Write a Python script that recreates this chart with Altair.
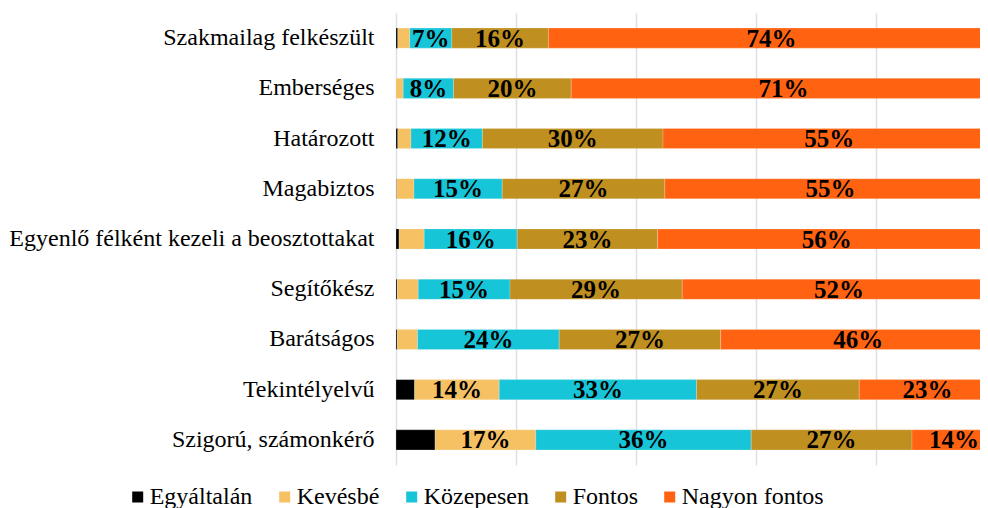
import altair as alt
import pandas as pd

cats = ["Szakmailag felkészült", "Emberséges", "Határozott", "Magabiztos",
        "Egyenlő félként kezeli a beosztottakat", "Segítőkész", "Barátságos",
        "Tekintélyelvű", "Szigorú, számonkérő"]
series = ["Egyáltalán", "Kevésbé", "Közepesen", "Fontos", "Nagyon fontos"]
colors = ["#000000", "#F5C163", "#17C5D8", "#BF8F1F", "#FF6311"]

egyaltalan = [0.3, 0.0, 0.3, 0.1, 0.5, 0.2, 0.2, 3.1, 6.5]
kevesbe = [2.0, 1.2, 2.2, 2.9, 4.2, 3.5, 3.4, 14.1, 16.8]
kozepesen = [7.0, 8.4, 11.9, 14.7, 15.5, 15.3, 23.6, 32.9, 35.9]
fontos = [16.1, 19.6, 30.1, 27.1, 23.4, 28.7, 26.9, 27.1, 26.8]
nagyon = [74.4, 70.8, 55.4, 55.2, 56.4, 52.3, 45.9, 22.8, 14.0]

vals = [egyaltalan, kevesbe, kozepesen, fontos, nagyon]
rows = []
for si, (s, v) in enumerate(zip(series, vals)):
    for c, x in zip(cats, v):
        rows.append({"cat": c, "series": s, "idx": si, "value": x})
df = pd.DataFrame(rows)

FONT = "Liberation Serif"

y_enc = alt.Y("cat:N", sort=cats, title=None,
              scale=alt.Scale(paddingInner=0.6, paddingOuter=0.3),
              axis=alt.Axis(domain=False, ticks=False, labelPadding=22,
                            labelFont=FONT, labelFontSize=24, labelColor="#000000",
                            labelBaseline="alphabetic", labelOffset=7,
                            labelLimit=600))

x_scale = alt.Scale(domain=[0, 97.33], nice=False, zero=True)

bars = alt.Chart(df).mark_bar(clip=True, stroke="#ffffff", strokeWidth=0.4, strokeOpacity=0.5).encode(
    y=y_enc,
    x=alt.X("value:Q", stack="zero", scale=x_scale, title=None,
            axis=alt.Axis(values=[0, 20, 40, 60, 80], grid=True, labels=False,
                          ticks=False, domain=False, gridColor="#DCE0E6",
                          gridWidth=1.5)),
    color=alt.Color("series:N", scale=alt.Scale(domain=series, range=colors),
                    legend=alt.Legend(orient="none", legendX=-272.8, legendY=472,
                                      direction="horizontal", title=None,
                                      symbolType="square", symbolSize=121,
                                      symbolStrokeWidth=0, symbolOffset=2.5,
                                      labelFont=FONT,
                                      labelFontSize=24, labelColor="#000000",
                                      columnPadding=17, labelOffset=0, padding=0)),
    order=alt.Order("idx:Q"),
)

labels = alt.Chart(df).transform_stack(
    stack="value", groupby=["cat"], as_=["x0", "x1"],
    sort=[alt.SortField("idx", order="ascending")]
).transform_calculate(
    mid="(datum.x0 + datum.x1) / 2",
    lab="round(datum.value) + '%'"
).transform_filter(
    "datum.series != 'Egyáltalán' && datum.value >= 5"
).mark_text(clip=True, font=FONT, fontWeight="bold", fontSize=25,
            color="#000000", baseline="alphabetic", dy=8.5).encode(
    y=alt.Y("cat:N", sort=cats),
    x=alt.X("mid:Q", scale=x_scale),
    text="lab:N",
)

chart = alt.layer(bars, labels).properties(
    width=584, height=452,
    autosize=alt.AutoSizeParams(type="none"),
    padding={"left": 388, "top": 5, "right": 0, "bottom": 43},
).configure_view(stroke=None)

chart.save("out.html", embed_options={"renderer": "svg", "actions": False})
